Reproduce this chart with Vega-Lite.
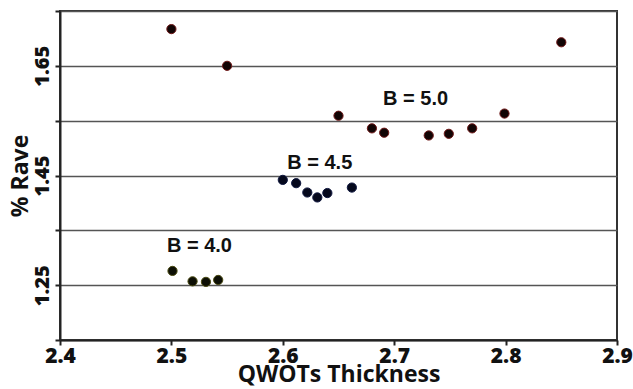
{
  "$schema": "https://vega.github.io/schema/vega-lite/v6.json",
  "width": 557,
  "height": 329,
  "autosize": "none",
  "padding": {"left": 60, "top": 11, "right": 16, "bottom": 49},
  "background": "white",
  "config": {
    "view": {"stroke": "#333333", "strokeWidth": 2},
    "font": "Open Sans",
    "axis": {
      "domainColor": "#222222", "domainWidth": 2,
      "tickColor": "#222222", "tickWidth": 2, "tickSize": 5,
      "labelFont": "Open Sans", "labelFontWeight": 800, "labelColor": "#111111",
      "labelFlush": false,
      "titleFont": "Open Sans", "titleFontWeight": "bold", "titleColor": "#111111"
    },
    "axisX": {
      "grid": false, "labelFontSize": 21, "labelPadding": 0,
      "titleFontSize": 23, "titlePadding": -3
    },
    "axisY": {
      "grid": true, "gridColor": "#555555", "gridWidth": 1.5,
      "labelFontSize": 20, "labelAngle": -90, "labelAlign": "center", "labelBaseline": "bottom", "labelPadding": 3,
      "titleFontSize": 23, "titlePadding": 0
    }
  },
  "datasets": {
    "pts": [
      {"thickness": 2.50, "rave": 1.717, "B": "5.0"},
      {"thickness": 2.55, "rave": 1.650, "B": "5.0"},
      {"thickness": 2.65, "rave": 1.559, "B": "5.0"},
      {"thickness": 2.68, "rave": 1.536, "B": "5.0"},
      {"thickness": 2.691, "rave": 1.528, "B": "5.0"},
      {"thickness": 2.731, "rave": 1.523, "B": "5.0"},
      {"thickness": 2.749, "rave": 1.526, "B": "5.0"},
      {"thickness": 2.77, "rave": 1.536, "B": "5.0"},
      {"thickness": 2.799, "rave": 1.563, "B": "5.0"},
      {"thickness": 2.85, "rave": 1.693, "B": "5.0"},
      {"thickness": 2.600, "rave": 1.442, "B": "4.5"},
      {"thickness": 2.612, "rave": 1.436, "B": "4.5"},
      {"thickness": 2.622, "rave": 1.419, "B": "4.5"},
      {"thickness": 2.631, "rave": 1.410, "B": "4.5"},
      {"thickness": 2.640, "rave": 1.418, "B": "4.5"},
      {"thickness": 2.662, "rave": 1.428, "B": "4.5"},
      {"thickness": 2.501, "rave": 1.276, "B": "4.0"},
      {"thickness": 2.519, "rave": 1.257, "B": "4.0"},
      {"thickness": 2.531, "rave": 1.256, "B": "4.0"},
      {"thickness": 2.542, "rave": 1.2595, "B": "4.0"}
    ],
    "labels": [
      {"thickness": 2.496, "rave": 1.311, "text": "B = 4.0"},
      {"thickness": 2.604, "rave": 1.462, "text": "B = 4.5"},
      {"thickness": 2.690, "rave": 1.579, "text": "B = 5.0"}
    ]
  },
  "encoding": {
    "x": {
      "field": "thickness", "type": "quantitative",
      "scale": {"domain": [2.4, 2.9], "nice": false, "zero": false},
      "axis": {
        "title": "QWOTs Thickness",
        "values": [2.4, 2.5, 2.6, 2.7, 2.8, 2.9],
        "format": ".1f"
      }
    },
    "y": {
      "field": "rave", "type": "quantitative",
      "scale": {"domain": [1.15, 1.75], "nice": false, "zero": false},
      "axis": {
        "title": "% Rave",
        "values": [1.15, 1.25, 1.35, 1.45, 1.55, 1.65, 1.75],
        "labelExpr": "(abs(datum.value-1.25)<0.001 || abs(datum.value-1.45)<0.001 || abs(datum.value-1.65)<0.001) ? format(datum.value, '.2f') : ''"
      }
    }
  },
  "layer": [
    {
      "data": {"name": "pts"},
      "mark": {"type": "point", "filled": true, "size": 85, "strokeWidth": 1, "opacity": 1},
      "encoding": {
        "fill": {
          "field": "B", "type": "nominal",
          "scale": {"domain": ["4.0", "4.5", "5.0"], "range": ["#0d0f05", "#05081c", "#120505"]},
          "legend": null
        },
        "stroke": {
          "field": "B", "type": "nominal",
          "scale": {"domain": ["4.0", "4.5", "5.0"], "range": ["#4a4a10", "#101840", "#701818"]},
          "legend": null
        }
      }
    },
    {
      "data": {"name": "labels"},
      "mark": {"type": "text", "align": "left", "baseline": "alphabetic", "font": "Liberation Sans", "fontSize": 20, "fontWeight": "bold", "color": "#111111"},
      "encoding": {
        "text": {"field": "text"}
      }
    }
  ]
}
